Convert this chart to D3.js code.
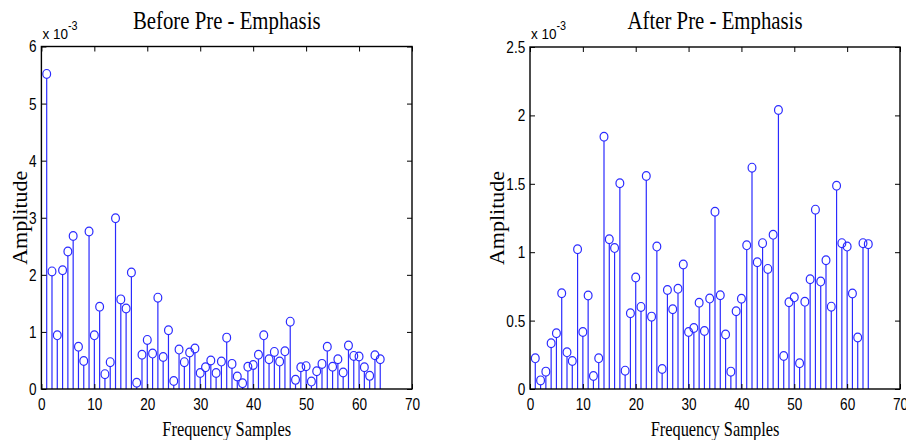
<!DOCTYPE html>
<html>
<head>
<meta charset="utf-8">
<script src="https://cdn.jsdelivr.net/npm/d3@7"></script>
<style>
  body { margin: 0; background: #fff; }
  svg { display: block; }
</style>
</head>
<body>
<svg id="chart" width="906" height="440"></svg>
<script>
// values in units of 1e-3, sample index 1..64
var beforeValues = [
  5.52, 2.06, 0.94, 2.08, 2.41, 2.68, 0.74, 0.49, 2.76, 0.94,
  1.44, 0.26, 0.47, 2.99, 1.57, 1.41, 2.04, 0.11, 0.60, 0.86,
  0.62, 1.60, 0.56, 1.03, 0.14, 0.69, 0.47, 0.64, 0.71, 0.28,
  0.38, 0.50, 0.28, 0.48, 0.90, 0.44, 0.22, 0.10, 0.39, 0.42,
  0.60, 0.94, 0.52, 0.65, 0.48, 0.66, 1.18, 0.16, 0.38, 0.40,
  0.13, 0.31, 0.44, 0.74, 0.39, 0.52, 0.29, 0.76, 0.58, 0.57,
  0.38, 0.23, 0.59, 0.52
];
var afterValues = [
  0.224, 0.063, 0.127, 0.334, 0.407, 0.700, 0.268, 0.205, 1.022, 0.417,
  0.683, 0.095, 0.224, 1.844, 1.095, 1.030, 1.504, 0.134, 0.554, 0.815,
  0.600, 1.557, 0.529, 1.041, 0.146, 0.724, 0.583, 0.732, 0.910, 0.417,
  0.446, 0.630, 0.424, 0.661, 1.296, 0.685, 0.398, 0.127, 0.568, 0.660,
  1.050, 1.618, 0.927, 1.066, 0.878, 1.127, 2.040, 0.241, 0.634, 0.670,
  0.188, 0.637, 0.802, 1.311, 0.785, 0.941, 0.602, 1.486, 1.066, 1.041,
  0.698, 0.376, 1.066, 1.059
];
var xTicks = [0, 10, 20, 30, 40, 50, 60, 70];
var beforeYTicks = [0, 1, 2, 3, 4, 5, 6];
var afterYTicks = [0, 0.5, 1, 1.5, 2, 2.5];
var titles = ["Before Pre - Emphasis", "After Pre - Emphasis"];
var xLabel = "Frequency Samples";
var yLabel = "Amplitude";

var svg = d3.select("#chart");
var serif = "'Liberation Serif', 'Times New Roman', serif";
var sans = "'Liberation Sans', Arial, sans-serif";
var stemColor = "#2b2bff";

function drawPanel(p) {
  var x = d3.scaleLinear().domain([0, 70]).range([p.left, p.right]);
  var y = d3.scaleLinear().domain([0, p.yTicks[p.yTicks.length - 1]]).range([p.bottom, p.top]);
  var g = svg.append("g").attr("class", "panel");

  // stems
  var stems = g.append("g").selectAll("g.stem")
    .data(p.values)
    .enter().append("g")
    .attr("class", "stem");

  stems.append("line")
    .attr("x1", function (d, i) { return x(i + 1); })
    .attr("x2", function (d, i) { return x(i + 1); })
    .attr("y1", y(0))
    .attr("y2", function (d) { return y(d) + 4.4; })
    .style("stroke", stemColor)
    .style("stroke-width", "1.2px");

  stems.append("ellipse")
    .attr("cx", function (d, i) { return x(i + 1); })
    .attr("cy", function (d) { return y(d); })
    .attr("rx", 3.9)
    .attr("ry", 4.4)
    .style("fill", "none")
    .style("stroke", stemColor)
    .style("stroke-width", "1.2px");

  // axes, ticks inside like matlab
  var bottomAxis = d3.axisBottom(x).tickValues(xTicks).tickSizeInner(-5).tickSizeOuter(0).tickPadding(9);
  var topAxis = d3.axisTop(x).tickValues(xTicks).tickSizeInner(-5).tickSizeOuter(0).tickFormat("");
  var leftAxis = d3.axisLeft(y).tickValues(p.yTicks).tickSizeInner(-5).tickSizeOuter(0).tickPadding(6)
    .tickFormat(d3.format("~g"));
  var rightAxis = d3.axisRight(y).tickValues(p.yTicks).tickSizeInner(-5).tickSizeOuter(0).tickFormat("");

  var gb = g.append("g").attr("transform", "translate(0," + p.bottom + ")").call(bottomAxis);
  var gt = g.append("g").attr("transform", "translate(0," + p.top + ")").call(topAxis);
  var gl = g.append("g").attr("transform", "translate(" + p.left + ",0)").call(leftAxis);
  var gr = g.append("g").attr("transform", "translate(" + p.right + ",0)").call(rightAxis);

  [gb, gt, gl, gr].forEach(function (a) {
    a.select(".domain").remove();
    a.selectAll(".tick line").style("stroke", "#000").style("stroke-width", "1px");
    a.selectAll("text")
      .style("font-family", sans)
      .style("font-size", "17px")
      .style("fill", "#000")
      .attr("transform", "scale(0.8,1)");
  });

  g.append("rect")
    .attr("x", p.left)
    .attr("y", p.top)
    .attr("width", p.right - p.left)
    .attr("height", p.bottom - p.top)
    .style("fill", "none")
    .style("stroke", "#000")
    .style("stroke-width", "1.4px");

  // exponent label
  var ex = g.append("text")
    .attr("transform", "translate(" + (p.left + 1) + "," + (p.top - 8) + ") scale(0.9,1)")
    .style("font-family", sans)
    .style("font-size", "15px")
    .style("fill", "#000");
  ex.append("tspan").text("x 10");
  ex.append("tspan").attr("dy", -9).style("font-size", "12px").text("-3");

  var cx = (p.left + p.right) / 2;

  g.append("text")
    .attr("transform", "translate(" + cx + ",29) scale(0.8,1)")
    .attr("text-anchor", "middle")
    .style("font-family", serif)
    .style("font-size", "26px")
    .style("fill", "#000")
    .text(p.title);

  g.append("text")
    .attr("transform", "translate(" + cx + ",436) scale(0.78,1)")
    .attr("text-anchor", "middle")
    .style("font-family", serif)
    .style("font-size", "21px")
    .style("fill", "#000")
    .text(xLabel);

  g.append("text")
    .attr("transform", "translate(" + p.yLabelX + "," + ((p.top + p.bottom) / 2) + ") rotate(-90)")
    .attr("text-anchor", "middle")
    .style("font-family", serif)
    .style("font-size", "22px")
    .style("fill", "#000")
    .text(yLabel);
}

drawPanel({
  left: 41.4, right: 412, top: 46.5, bottom: 389,
  values: beforeValues, yTicks: beforeYTicks, title: titles[0], yLabelX: 27
});
drawPanel({
  left: 530, right: 900, top: 47, bottom: 389,
  values: afterValues, yTicks: afterYTicks, title: titles[1], yLabelX: 504
});
</script>
</body>
</html>
